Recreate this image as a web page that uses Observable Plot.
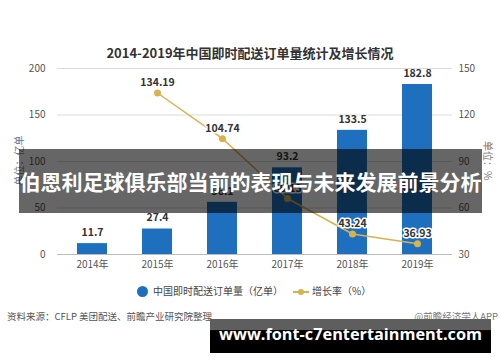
<!DOCTYPE html>
<html><head><meta charset="utf-8">
<script src="https://cdn.jsdelivr.net/npm/d3@7"></script>
<script src="https://cdn.jsdelivr.net/npm/@observablehq/plot@0.6"></script>
<style>
body{margin:0;background:#fff;font-family:"Noto Sans CJK SC","Noto Sans",sans-serif;}
#wrap{position:relative;width:500px;height:362px;overflow:hidden;background:#fff;}
#title{position:absolute;top:43px;left:0;width:500px;text-align:center;font-size:13px;font-weight:bold;color:#333;}
#chart{position:absolute;top:0;left:0;}
.yl{position:absolute;font-size:10px;color:#777;white-space:nowrap;}
#legend{position:absolute;top:283px;left:0;width:500px;font-size:10px;color:#444;}
#src{position:absolute;top:309px;left:7px;font-size:9.5px;color:#555;}
#app{position:absolute;top:309px;right:2px;font-size:9.5px;color:#777;}
#banner{position:absolute;left:19px;top:149px;width:463px;height:64px;background:rgba(0,0,0,0.6);color:#fff;font-weight:bold;font-size:21px;line-height:64px;text-align:center;white-space:nowrap;letter-spacing:0px;}
#url{position:absolute;left:210px;top:319px;width:281px;height:34px;background:linear-gradient(#5e5e5e 0%,#5e5e5e 32%,#000 34%,#000 100%);color:#fff;font-family:"Open Sans",sans-serif;font-weight:bold;font-size:16.3px;line-height:30px;text-align:center;white-space:nowrap;}
</style></head>
<body><div id="wrap">
<div id="title"></div>
<div id="chart"></div>
<div class="yl" style="left:-7px;top:153px;transform:rotate(-90deg);">单位：亿单</div>
<div class="yl" style="left:469px;top:153px;transform:rotate(90deg);">单位：%</div>
<div id="legend">
  <span style="position:absolute;left:137px;top:3px;width:11px;height:11px;border-radius:50%;background:#1f6fbf;"></span>
  <span style="position:absolute;left:153px;top:0;">中国即时配送订单量（亿单）</span>
  <span style="position:absolute;left:293px;top:8px;width:16px;height:2px;background:#d8b24c;"></span>
  <span style="position:absolute;left:298px;top:6px;width:6px;height:6px;border-radius:50%;background:#d8b24c;"></span>
  <span style="position:absolute;left:312px;top:0;">增长率（%）</span>
</div>
<div id="src">资料来源：CFLP 美团配送、前瞻产业研究院整理</div>
<div id="app">@前瞻经济学人APP</div>
<div id="banner"></div>
<div id="url">www.font-c7entertainment.com</div>
</div>
<script>
const titleText = "2014-2019年中国即时配送订单量统计及增长情况";
const bannerText = "伯恩利足球俱乐部当前的表现与未来发展前景分析";
const years = ["2014年","2015年","2016年","2017年","2018年","2019年"];
const orders = [11.7, 27.4, 56.1, 93.2, 133.5, 182.8];
const growthYears = ["2015年","2016年","2017年","2018年","2019年"];
const growth = [134.19, 104.74, 66.13, 43.24, 36.93];
const leftTicks = [0, 50, 100, 150, 200];
const rightTicks = [30, 60, 90, 120, 150];

document.getElementById("title").textContent = titleText;
document.getElementById("banner").textContent = bannerText;

const toLeft = v => (v - 30) * 200 / 120;
const barData = years.map((y, i) => ({year: y, value: orders[i]}));
const lineData = growthYears.map((y, i) => ({year: y, value: growth[i], yv: toLeft(growth[i])}));

const chart = Plot.plot({
  width: 500, height: 362,
  marginTop: 68, marginBottom: 108, marginLeft: 57, marginRight: 48,
  style: {fontFamily: '"Noto Sans CJK SC","Noto Sans",sans-serif', fontSize: "10px", color: "#555", background: "transparent"},
  x: {domain: years, paddingInner: 0.54, paddingOuter: 0.27, label: null},
  y: {domain: [0, 200], label: null},
  marks: [
    Plot.gridY(leftTicks, {stroke: "#dcdcdc", strokeOpacity: 1}),
    Plot.barY(barData, {x: "year", y: "value", fill: "#1f6fbf"}),
    Plot.ruleY([0], {stroke: "#bdbdbd"}),
    Plot.text(barData, {x: "year", y: "value", text: d => d.value.toFixed(1), dy: -11, fontWeight: "bold", fontSize: 10.5, fill: "#333"}),
    Plot.line(lineData, {x: "year", y: "yv", stroke: "#d8b24c", strokeWidth: 1.5}),
    Plot.dot(lineData, {x: "year", y: "yv", r: 3.5, fill: "#d8b24c"}),
    Plot.text(lineData, {x: "year", y: "yv", text: d => d.value.toFixed(2), dy: -10, fontWeight: "bold", fontSize: 10.5, fill: "#333", stroke: "white", strokeWidth: 3}),
    Plot.axisX({tickSize: 0, tickPadding: 6, fontSize: 10, color: "#555", label: null}),
    Plot.axisY(leftTicks, {anchor: "left", tickSize: 0, tickPadding: 12, label: null, fontSize: 10, color: "#555"}),
    Plot.axisY(rightTicks.map(toLeft), {anchor: "right", tickSize: 0, tickPadding: 6, label: null, tickFormat: d => String(Math.round(30 + d * 120 / 200)), fontSize: 10, color: "#555"})
  ]
});
document.getElementById("chart").appendChild(chart);
</script>
</body></html>
